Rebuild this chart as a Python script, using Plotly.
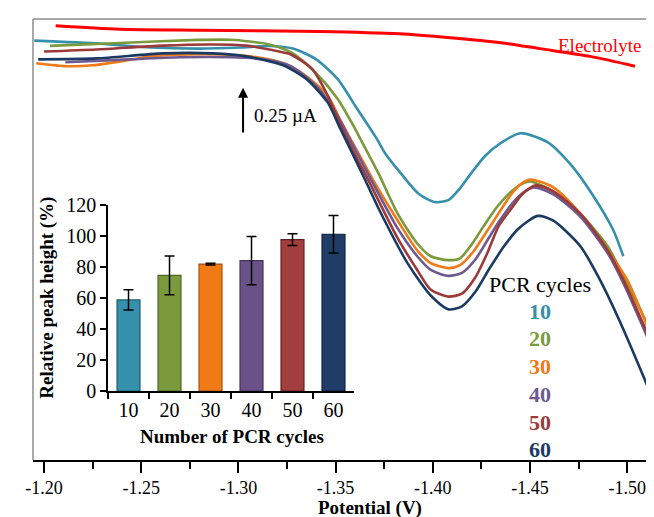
import plotly.graph_objects as go

# ---------------- main voltammograms (Potential in V, current in µA, arbitrary offset) -------------
V_electrolyte = [-1.206, -1.239, -1.280, -1.342, -1.383, -1.409, -1.435, -1.455, -1.481, -1.504]
I_electrolyte = [2.346, 2.327, 2.322, 2.316, 2.303, 2.282, 2.255, 2.223, 2.181, 2.128]

V_10 = [-1.195, -1.229, -1.255, -1.280, -1.301, -1.316, -1.328, -1.340, -1.351, -1.361, -1.371, -1.376,
        -1.384, -1.393, -1.401, -1.408, -1.414, -1.420, -1.427, -1.435, -1.445, -1.459, -1.471, -1.482,
        -1.493, -1.498]
I_10 = [2.266, 2.250, 2.229, 2.223, 2.229, 2.237, 2.223, 2.165, 2.059, 1.899, 1.739, 1.649,
        1.543, 1.436, 1.394, 1.404, 1.468, 1.553, 1.644, 1.713, 1.766, 1.718, 1.596, 1.436,
        1.239, 1.101]

V_20 = [-1.203, -1.236, -1.279, -1.296, -1.306, -1.316, -1.328, -1.340, -1.351, -1.359, -1.366, -1.372,
        -1.382, -1.392, -1.399, -1.408, -1.414, -1.420, -1.426, -1.433, -1.440, -1.445, -1.450, -1.462,
        -1.476, -1.490, -1.498, -1.513]
I_20 = [2.238, 2.252, 2.270, 2.271, 2.261, 2.245, 2.197, 2.090, 1.952, 1.809, 1.670, 1.550,
        1.330, 1.170, 1.101, 1.080, 1.090, 1.165, 1.261, 1.367, 1.447, 1.487, 1.505, 1.452,
        1.330, 1.154, 0.995, 0.681]

V_30 = [-1.196, -1.212, -1.225, -1.243, -1.255, -1.274, -1.291, -1.306, -1.323, -1.335, -1.346, -1.352,
        -1.358, -1.364, -1.370, -1.382, -1.392, -1.399, -1.408, -1.414, -1.421, -1.427, -1.433, -1.440,
        -1.445, -1.450, -1.462, -1.476, -1.490, -1.500, -1.513]
I_30 = [2.144, 2.128, 2.133, 2.160, 2.181, 2.191, 2.191, 2.181, 2.144, 2.074, 1.968, 1.846,
        1.729, 1.615, 1.500, 1.293, 1.133, 1.064, 1.037, 1.053, 1.128, 1.223, 1.319, 1.431,
        1.489, 1.516, 1.473, 1.330, 1.133, 0.973, 0.654]

V_40 = [-1.211, -1.244, -1.270, -1.296, -1.313, -1.327, -1.340, -1.350, -1.356, -1.362, -1.369, -1.382,
        -1.392, -1.399, -1.408, -1.415, -1.422, -1.428, -1.434, -1.441, -1.446, -1.452, -1.462, -1.476,
        -1.490, -1.498, -1.513]
I_40 = [2.149, 2.165, 2.176, 2.176, 2.165, 2.128, 2.021, 1.878, 1.760, 1.640, 1.500, 1.250,
        1.101, 1.027, 0.995, 1.011, 1.085, 1.186, 1.287, 1.388, 1.441, 1.473, 1.436, 1.314,
        1.117, 0.957, 0.601]

V_50 = [-1.200, -1.227, -1.261, -1.287, -1.304, -1.321, -1.327, -1.338, -1.346, -1.353, -1.359, -1.366,
        -1.382, -1.392, -1.399, -1.408, -1.415, -1.422, -1.428, -1.434, -1.441, -1.446, -1.453, -1.462,
        -1.476, -1.490, -1.498, -1.513]
I_50 = [2.207, 2.218, 2.239, 2.245, 2.239, 2.207, 2.191, 2.112, 1.968, 1.800, 1.670, 1.530,
        1.197, 1.027, 0.920, 0.883, 0.899, 0.989, 1.117, 1.266, 1.367, 1.436, 1.484, 1.452,
        1.330, 1.133, 0.973, 0.622]

V_60 = [-1.197, -1.227, -1.261, -1.287, -1.304, -1.323, -1.335, -1.346, -1.352, -1.358, -1.364, -1.373,
        -1.387, -1.399, -1.408, -1.415, -1.422, -1.429, -1.437, -1.444, -1.454, -1.462, -1.476, -1.486,
        -1.498, -1.513]
I_60 = [2.165, 2.170, 2.197, 2.197, 2.181, 2.133, 2.059, 1.931, 1.800, 1.670, 1.540, 1.340,
        1.064, 0.888, 0.814, 0.830, 0.910, 1.032, 1.160, 1.250, 1.319, 1.293, 1.154, 0.973,
        0.707, 0.335]

x_tick_vals = [-1.20, -1.25, -1.30, -1.35, -1.40, -1.45, -1.50]
x_tick_text = ["-1.20", "-1.25", "-1.30", "-1.35", "-1.40", "-1.45", "-1.50"]

# ---------------- inset bar chart ----------------
cycles = ["10", "20", "30", "40", "50", "60"]
rel_height = [58.7, 74.5, 81.8, 84.0, 97.5, 101.0]
rel_err = [6.5, 12.5, 0.6, 15.5, 3.8, 12.0]

curve_colors = ["#3590AB", "#7A9A3C", "#F07A16", "#6E5890", "#9B3A38", "#1B3A63"]
bar_colors = ["#3590AB", "#7A9A3C", "#F07A16", "#6A5288", "#A23E3B", "#1F3D66"]
bar_edges = ["#1F5E70", "#4E6527", "#A8500C", "#433357", "#66221F", "#0E2140"]

SERIF = "Liberation Serif, Times New Roman, serif"

fig = go.Figure()

fig.add_trace(go.Scatter(x=V_electrolyte, y=I_electrolyte, mode="lines",
                         line=dict(color="#FF0000", width=3, shape="spline", smoothing=0.8),
                         xaxis="x", yaxis="y", name="Electrolyte"))
series = [(V_10, I_10), (V_20, I_20), (V_30, I_30), (V_40, I_40), (V_50, I_50), (V_60, I_60)]
for (vx, iy), col, cyc in zip(series, curve_colors, cycles):
    fig.add_trace(go.Scatter(x=vx, y=iy, mode="lines",
                             line=dict(color=col, width=2.6, shape="spline", smoothing=0.7),
                             xaxis="x", yaxis="y", name=cyc))

fig.add_trace(go.Bar(x=cycles, y=rel_height, width=0.56,
                     marker=dict(color=bar_colors, line=dict(color=bar_edges, width=1.2)),
                     error_y=dict(type="data", array=rel_err, visible=True, color="black",
                                  thickness=1.5, width=5),
                     xaxis="x2", yaxis="y2", name="bars"))

# The page body adds an 8 px offset, so the figure is sized to fit the 654x517 window.
fig.update_layout(
    width=646, height=509,
    margin=dict(l=25, r=0, t=4, b=57),
    paper_bgcolor="white", plot_bgcolor="white",
    showlegend=False,
    font=dict(family=SERIF, color="black"),
    xaxis=dict(domain=[0, 1], range=[-1.19434, -1.51379],
               tickvals=x_tick_vals, ticktext=x_tick_text,
               ticks="outside", ticklen=11, tickwidth=1.5, tickcolor="black",
               minor=dict(dtick=0.025, tick0=-1.2, ticks="outside", ticklen=7,
                          tickwidth=1.5, tickcolor="black", showgrid=False),
               showline=True, linecolor="black", linewidth=1.5,
               showgrid=False, zeroline=False, ticklabelstandoff=0,
               tickfont=dict(family=SERIF, size=18, color="black")),
    yaxis=dict(domain=[0, 1], range=[0, 2.383], visible=False, showgrid=False),
    xaxis2=dict(domain=[0.1208, 0.5169], anchor="y2", type="category",
                showline=True, linecolor="black", linewidth=1.5,
                ticks="outside", tickson="boundaries", ticklen=6, tickwidth=1.5,
                tickcolor="black", showgrid=False,
                tickfont=dict(family=SERIF, size=20, color="black")),
    yaxis2=dict(domain=[0.15625, 0.5788], anchor="x2", range=[0, 120], dtick=20,
                showline=True, linecolor="black", linewidth=1.5,
                ticks="outside", ticklen=6, tickwidth=1.5, tickcolor="black",
                showgrid=False, zeroline=False,
                tickfont=dict(family=SERIF, size=20, color="black")),
)

# frame lines (gray) at top and left
fig.add_shape(type="line", xref="paper", yref="paper", x0=0, x1=0, y0=0, y1=1,
              line=dict(color="#8C8C8C", width=1.5))
fig.add_shape(type="line", xref="paper", yref="paper", x0=0, x1=1, y0=1, y1=1,
              line=dict(color="#8C8C8C", width=1.5))

ann = []
# scale arrow 0.25 µA
ann.append(dict(x=-1.3024, y=2.011, ax=-1.3024, ay=1.761, xref="x", yref="y", axref="x", ayref="y",
                showarrow=True, arrowhead=2, arrowsize=1, arrowwidth=2, arrowcolor="black", text=""))
ann.append(dict(x=-1.3068, y=1.86, xref="x", yref="y", text="0.25 µA", showarrow=False,
                xanchor="left", yanchor="middle", font=dict(family=SERIF, size=19, color="black")))
ann.append(dict(x=-1.486, y=2.239, xref="x", yref="y", text="Electrolyte", showarrow=False,
                xanchor="center", yanchor="middle", font=dict(family=SERIF, size=19, color="#FF0000")))
ann.append(dict(x=-1.4551, y=0.947, xref="x", yref="y", text="PCR cycles", showarrow=False,
                xanchor="center", yanchor="middle", font=dict(family=SERIF, size=22, color="black")))
legend_y = [0.803, 0.654, 0.505, 0.356, 0.202, 0.058]
for cyc, col, ly in zip(cycles, curve_colors, legend_y):
    ann.append(dict(x=-1.4551, y=ly, xref="x", yref="y", text="<b>%s</b>" % cyc, showarrow=False,
                    xanchor="center", yanchor="middle", font=dict(family=SERIF, size=22, color=col)))
# axis titles
ann.append(dict(x=0.5427, y=-0.1095, xref="paper", yref="paper", text="<b>Potential (V)</b>",
                showarrow=False, xanchor="center", yanchor="middle",
                font=dict(family=SERIF, size=19, color="black")))
ann.append(dict(x=0.3205, y=0.0536, xref="paper", yref="paper", text="<b>Number of PCR cycles</b>",
                showarrow=False, xanchor="center", yanchor="middle",
                font=dict(family=SERIF, size=19, color="black")))
ann.append(dict(x=0.0225, y=0.368, xref="paper", yref="paper", text="<b>Relative peak height (%)</b>",
                showarrow=False, xanchor="center", yanchor="middle", textangle=-90,
                font=dict(family=SERIF, size=19, color="black")))
fig.update_layout(annotations=ann)

fig.write_html("out.html")
